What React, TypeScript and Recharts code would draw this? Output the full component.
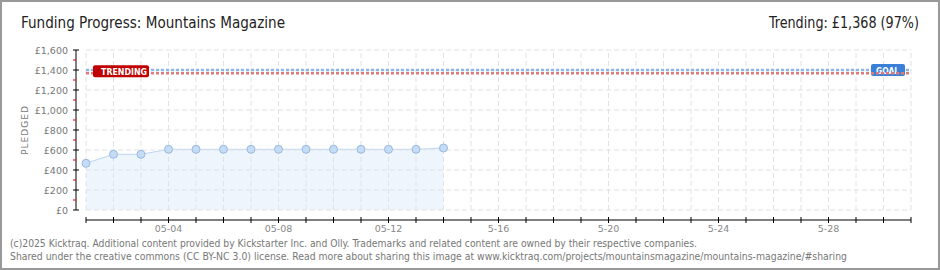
import { Area, ComposedChart, ReferenceLine, XAxis, YAxis } from "recharts";

// pledged totals per day of May
const days: number[] = [1, 2, 3, 4, 5, 6, 7, 8, 9, 10, 11, 12, 13, 14];
const pledged: number[] = [467, 557, 557, 607, 607, 607, 607, 607, 607, 607, 607, 607, 607, 620];

const goal = 1400;
const trending = 1368;

const xTicks: number[] = [
  1, 2, 3, 4, 5, 6, 7, 8, 9, 10, 11, 12, 13, 14, 15, 16, 17, 18, 19, 20, 21,
  22, 23, 24, 25, 26, 27, 28, 29, 30, 31,
];
const xLabels: Record<number, string> = {
  4: "05-04",
  8: "05-08",
  12: "05-12",
  16: "5-16",
  20: "5-20",
  24: "5-24",
  28: "5-28",
};
const yTicks: number[] = [
  0, 100, 200, 300, 400, 500, 600, 700, 800, 900, 1000, 1100, 1200, 1300, 1400, 1500, 1600,
];
const gridY: number[] = [0, 200, 400, 600, 800, 1000, 1200, 1400, 1600];

const data = days.map((d, i) => ({ day: d, pledged: pledged[i] }));

const font = "'DejaVu Sans', Verdana, sans-serif";
const fmt = (v: number) => "£" + v.toLocaleString("en-GB");

const YTick = (props: any) => {
  const { x, y, payload } = props;
  const v = payload.value;
  if (v % 200 !== 0) {
    return <line x1={x - 3} x2={x} y1={y} y2={y} stroke="#e00000" />;
  }
  return (
    <g>
      <line x1={x - 3} x2={x + 3} y1={y} y2={y} stroke="#000" />
      <text x={x - 8} y={y + 3.5} textAnchor="end" fontSize={9.5} fill="#777" fontFamily={font}>
        {fmt(v)}
      </text>
    </g>
  );
};

const XTick = (props: any) => {
  const { x, y, payload } = props;
  const label = xLabels[payload.value];
  return (
    <g>
      <line x1={x} x2={x} y1={y - 3} y2={y + 3} stroke="#000" />
      {label && (
        <text x={x} y={y + 12} textAnchor="middle" fontSize={9.5} fill="#888" fontFamily={font}>
          {label}
        </text>
      )}
    </g>
  );
};

const TrendLabel = (props: any) => {
  const { x, y } = props.viewBox;
  return (
    <g>
      <rect x={x + 7} y={y - 8} width={56} height={12} rx={2} fill="#c00000" />
      <text x={x + 15} y={y + 1.5} fontSize={9} fontWeight="bold" fill="#fff" fontFamily={font} textLength={46} lengthAdjust="spacingAndGlyphs">
        TRENDING
      </text>
    </g>
  );
};

const GoalLabel = (props: any) => {
  const { x, y, width } = props.viewBox;
  return (
    <g>
      <rect x={x + width - 40} y={y - 6} width={34} height={12} rx={2} fill="#3b80d8" />
      <text x={x + width - 35} y={y + 3.5} fontSize={9} fontWeight="bold" fill="#fff" fontFamily={font} textLength={23} lengthAdjust="spacingAndGlyphs">
        GOAL
      </text>
    </g>
  );
};

const PledgedLabel = (props: any) => {
  const { y, height } = props.viewBox;
  const cy = y + height / 2 - 5;
  return (
    <text x={28} y={cy} transform={`rotate(-90 28 ${cy})`} textAnchor="middle" fontSize={9} fill="#777" fontFamily={font} letterSpacing={1}>
      PLEDGED
    </text>
  );
};

export default function App() {
  return (
    <div
      style={{
        position: "absolute",
        left: 0,
        top: 0,
        width: 940,
        height: 270,
        boxSizing: "border-box",
        border: "2px solid #999",
        background: "#fff",
      }}
    >
      <style>{"body{margin:0}"}</style>
      <svg width={940} height={270} style={{ position: "absolute", left: -2, top: -2 }}>
        <text x={21} y={28} fontSize={15} fill="#222" fontFamily="'DejaVu Sans Condensed', 'DejaVu Sans', sans-serif" textLength={264} lengthAdjust="spacingAndGlyphs">
          Funding Progress: Mountains Magazine
        </text>
        <text x={769} y={28} fontSize={15} fill="#222" fontFamily="'DejaVu Sans Condensed', 'DejaVu Sans', sans-serif" textLength={150} lengthAdjust="spacingAndGlyphs">
          Trending: £1,368 (97%)
        </text>
        <text x={10} y={247} fontSize={10} fill="#777" fontFamily="'DejaVu Sans Condensed', sans-serif" textLength={687} lengthAdjust="spacingAndGlyphs">
          (c)2025 Kicktraq. Additional content provided by Kickstarter Inc. and Olly. Trademarks and related content are owned by their respective companies.
        </text>
        <text x={10} y={260} fontSize={10} fill="#777" fontFamily="'DejaVu Sans Condensed', sans-serif" textLength={837} lengthAdjust="spacingAndGlyphs">
          Shared under the creative commons (CC BY-NC 3.0) license. Read more about sharing this image at www.kicktraq.com/projects/mountainsmagazine/mountains-magazine/#sharing
        </text>
      </svg>
      <div style={{ position: "absolute", left: -2, top: -2 }}>
        <ComposedChart width={940} height={270} data={data} margin={{ top: 50, right: 29, bottom: 30, left: 0 }}>
          <XAxis
            dataKey="day"
            type="number"
            domain={[1, 31]}
            ticks={xTicks}
            interval={0}
            padding={{ left: 10, right: 0 }}
            tickSize={0}
            tickMargin={0}
            tickLine={false}
            tick={<XTick />}
            height={20}
            axisLine={{ stroke: "#000", strokeDasharray: "0 10 2000" }}
          />
          <YAxis
            type="number"
            domain={[0, 1600]}
            ticks={yTicks}
            interval={0}
            padding={{ top: 0, bottom: 10 }}
            width={76}
            tickSize={0}
            tickMargin={0}
            tickLine={false}
            tick={<YTick />}
            axisLine={{ stroke: "#000", strokeDasharray: "160 2000" }}
            label={<PledgedLabel />}
          />
          {gridY.map((v) => (
            <ReferenceLine
              key={"gy" + v}
              segment={[
                { x: 1, y: v },
                { x: 31, y: v },
              ]}
              stroke="#e2e2e2"
              strokeDasharray="5 3"
            />
          ))}
          {xTicks.map((d) => (
            <ReferenceLine
              key={"gx" + d}
              segment={[
                { x: d, y: 0 },
                { x: d, y: 1600 },
              ]}
              stroke="#e2e2e2"
              strokeDasharray="5 3"
            />
          ))}
          <Area
            type="linear"
            dataKey="pledged"
            stroke="#bcd6f2"
            strokeWidth={1}
            fill="#eef5fd"
            fillOpacity={1}
            dot={{ r: 4, fill: "#c5dcf6", stroke: "#99b9de", strokeWidth: 1 }}
            activeDot={false}
            isAnimationActive={false}
          />
          <ReferenceLine
            segment={[
              { x: 1, y: goal },
              { x: 31, y: goal },
            ]}
            stroke="#8db6e8"
            strokeWidth={2.5}
            strokeDasharray="3 2"
            label={<GoalLabel />}
          />
          <ReferenceLine
            segment={[
              { x: 1, y: trending },
              { x: 31, y: trending },
            ]}
            stroke="#e07a7a"
            strokeWidth={2.5}
            strokeDasharray="3 2"
            label={<TrendLabel />}
          />
        </ComposedChart>
      </div>
    </div>
  );
}
